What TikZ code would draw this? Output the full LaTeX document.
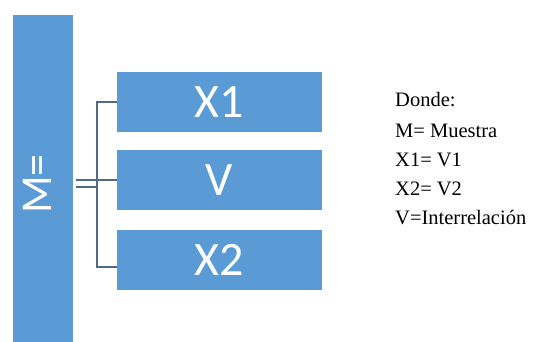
\documentclass[tikz,border=0pt]{standalone}
\usepackage{fontspec}
\setmainfont{Liberation Serif}
\newfontfamily\boxfont{Carlito}
\definecolor{barblue}{HTML}{5B9BD5}
\definecolor{linkgray}{HTML}{4E6A8A}
\begin{document}
\begin{tikzpicture}[x=1pt,y=-1pt,
  bluebox/.style={fill=barblue,draw=none,inner sep=0pt,text=white,font=\boxfont\fontsize{48}{48}\selectfont},
  link/.style={draw=linkgray,line width=1.2pt},
  legend/.style={anchor=west,inner sep=0pt,font=\fontsize{20.5}{21}\selectfont}]
\useasboundingbox (0,0) rectangle (536,342);
\fill[white] (0,0) rectangle (536,342);
% sample bar
\node[bluebox,minimum width=60pt,minimum height=327pt,anchor=north west] (m) at (13,15) {};
\node[rotate=90,text=white,inner sep=0pt,font=\boxfont\fontsize{44}{44}\selectfont] (mlabel) at (37,184) {M=};
% variable boxes
\node[bluebox,minimum width=205pt,minimum height=60pt] (x1) at (219.5,102) {X1};
\node[bluebox,minimum width=205pt,minimum height=60pt] (v) at (219.5,180) {V};
\node[bluebox,minimum width=205pt,minimum height=60pt] (x2) at (219.5,260) {X2};
% bracket joining the boxes to the bar
\coordinate (btop) at (97,102);
\coordinate (bbot) at (97,267);
\coordinate (bmid) at (97,187);
\coordinate (mout1) at (76,180);
\coordinate (mout2) at (76,187);
\draw[link] (x1.west) -- (btop) -- (bbot) -- (bbot -| x2.west);
\draw[link] (mout1) -- (v.west);
\draw[link] (mout2) -- (bmid);
% legend
\node[legend] (l1) at (395,100) {Donde:};
\node[legend] (l2) at (395,131) {M= Muestra};
\node[legend] (l3) at (395,160) {X1= V1};
\node[legend] (l4) at (395,189) {X2= V2};
\node[legend] (l5) at (395,218) {V=Interrelación};
\end{tikzpicture}
\end{document}
